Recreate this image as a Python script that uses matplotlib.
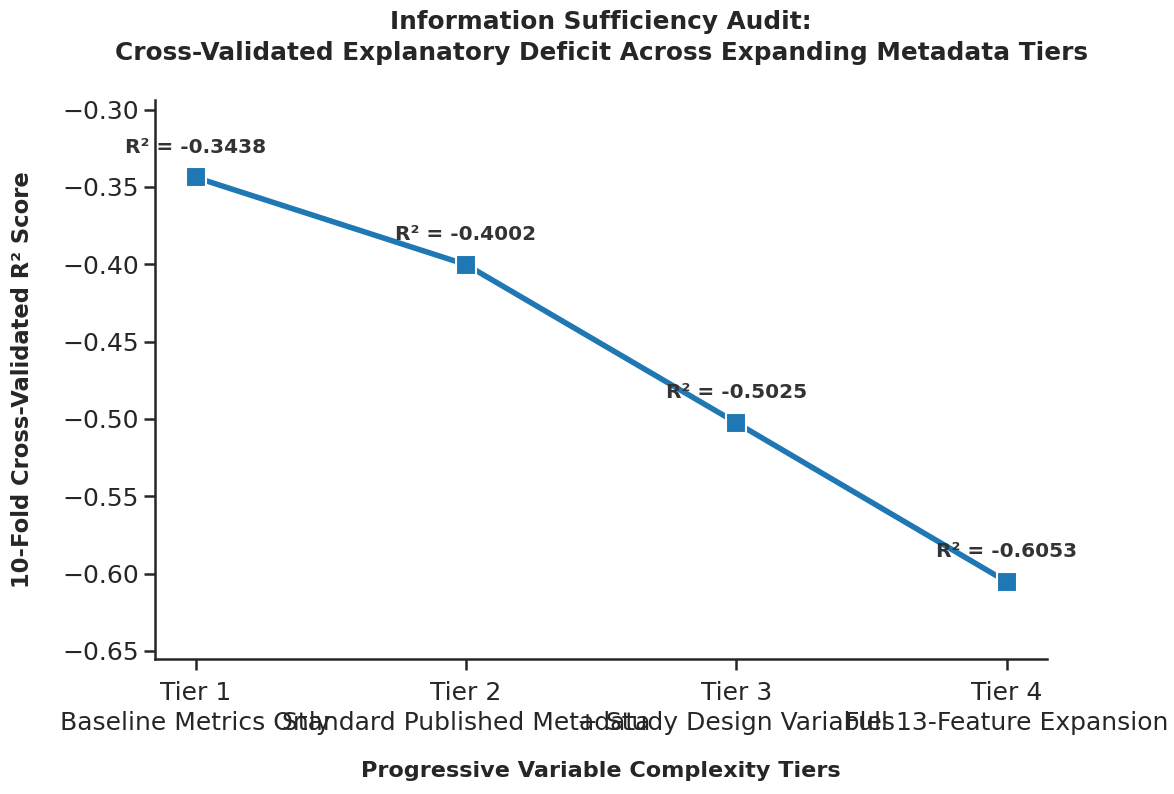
import matplotlib
matplotlib.use("Agg")
import matplotlib.pyplot as plt
import seaborn as sns
import numpy as np

tiers = ["Tier 1\nBaseline Metrics Only",
         "Tier 2\nStandard Published Metadata",
         "Tier 3\n+ Study Design Variables",
         "Tier 4\nFull 13-Feature Expansion"]
r2_scores = [-0.3438, -0.4002, -0.5025, -0.6053]

sns.set_theme(style="ticks", context="talk")
plt.rcParams['font.family'] = ['DejaVu Sans']

fig, ax = plt.subplots(figsize=(11.74, 7.94), dpi=100)
x = np.arange(len(tiers))
ax.plot(x, r2_scores, color="#1f77b4", linewidth=4, marker="s",
        markersize=14, markeredgecolor="white", markeredgewidth=1.5, zorder=3)

for xi, v in zip(x, r2_scores):
    ax.annotate(f"R² = {v:.4f}", (xi, v), xytext=(0, 15), textcoords="offset points",
                ha="center", va="bottom", fontsize=14.5, fontweight="bold", color="#333333")

ax.set_xticks(x)
ax.set_xticklabels(tiers, linespacing=1.3)
ax.tick_params(axis="both", labelsize=18, length=8, width=1.8)
ax.tick_params(axis="x", pad=8)
for s in ax.spines.values():
    s.set_linewidth(1.8)
ax.set_ylim(min(r2_scores) - 0.05, max(r2_scores) + 0.05)
ax.set_xlabel("Progressive Variable Complexity Tiers", fontsize=16.1, fontweight="bold", labelpad=19)
ax.set_ylabel("10-Fold Cross-Validated R² Score", fontsize=16.3, fontweight="bold", labelpad=20)
ax.set_title("Information Sufficiency Audit:\nCross-Validated Explanatory Deficit Across Expanding Metadata Tiers",
             fontsize=17.8, fontweight="bold", pad=29, linespacing=1.35)
sns.despine()
fig.subplots_adjust(left=0.132, right=0.892, top=0.874, bottom=0.17)
fig.savefig("out.png", dpi=100)
